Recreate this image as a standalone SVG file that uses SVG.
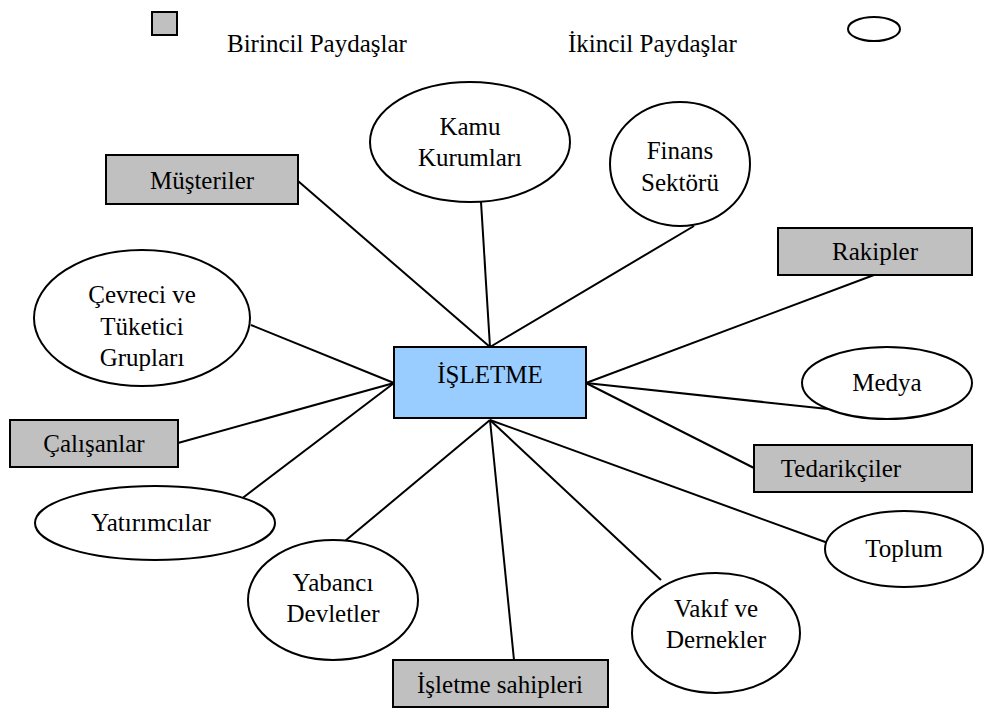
<svg xmlns="http://www.w3.org/2000/svg" width="985" height="708" viewBox="0 0 985 708">
<style>
text{font-family:'Liberation Serif','Times New Roman','DejaVu Serif',serif;font-size:25px;fill:#000;text-anchor:middle}
.p{fill:#c0c0c0;stroke:#000;stroke-width:2}
.s{fill:#fff;stroke:#000;stroke-width:2}
.c{fill:#99ccff;stroke:#000;stroke-width:2}
#edges line{stroke:#000;stroke-width:2}
</style>
<rect width="985" height="708" fill="#fff"/>
<g id="legend">
<rect class="p" x="152" y="12" width="25" height="23"/>
<text x="227" y="52" style="text-anchor:start">Birincil Paydaşlar</text>
<text x="568" y="52" style="text-anchor:start">İkincil Paydaşlar</text>
<ellipse class="s" cx="874" cy="29" rx="26" ry="12"/>
</g>
<g id="edges">
<line x1="490" y1="347" x2="298" y2="181"/>
<line x1="490" y1="347" x2="481" y2="202"/>
<line x1="490" y1="347" x2="694" y2="226"/>
<line x1="586" y1="383" x2="874" y2="275"/>
<line x1="586" y1="383" x2="828" y2="409"/>
<line x1="586" y1="383" x2="754" y2="468"/>
<line x1="394" y1="383" x2="251" y2="325"/>
<line x1="394" y1="383" x2="178" y2="443"/>
<line x1="394" y1="383" x2="240" y2="500"/>
<line x1="490" y1="420" x2="345" y2="541"/>
<line x1="490" y1="420" x2="514" y2="660"/>
<line x1="490" y1="420" x2="661" y2="580"/>
<line x1="490" y1="420" x2="828" y2="543"/>
</g>
<g id="isletme"><rect class="c" x="394" y="347" width="192" height="71"/><text x="490" y="383">İŞLETME</text></g>
<g id="kamu"><ellipse class="s" cx="470" cy="142" rx="100" ry="60"/><text x="470" y="135">Kamu</text><text x="470" y="166">Kurumları</text></g>
<g id="finans"><ellipse class="s" cx="680" cy="164" rx="70" ry="62"/><text x="680" y="159">Finans</text><text x="680" y="191">Sektörü</text></g>
<g id="musteriler"><rect class="p" x="106" y="155" width="192" height="49"/><text x="202" y="189">Müşteriler</text></g>
<g id="rakipler"><rect class="p" x="778" y="228" width="194" height="47"/><text x="875" y="260">Rakipler</text></g>
<g id="cevreci"><ellipse class="s" cx="142" cy="318" rx="108" ry="68"/><text x="142" y="303">Çevreci ve</text><text x="142" y="335">Tüketici</text><text x="142" y="366">Grupları</text></g>
<g id="medya"><ellipse class="s" cx="887" cy="383" rx="85" ry="36"/><text x="887" y="391">Medya</text></g>
<g id="calisanlar"><rect class="p" x="10" y="420" width="168" height="47"/><text x="94" y="452">Çalışanlar</text></g>
<g id="tedarikciler"><rect class="p" x="754" y="445" width="218" height="47"/><text x="841" y="477">Tedarikçiler</text></g>
<g id="yatirimcilar"><ellipse class="s" cx="155" cy="523" rx="120" ry="37"/><text x="151" y="531">Yatırımcılar</text></g>
<g id="toplum"><ellipse class="s" cx="904" cy="549" rx="79" ry="38"/><text x="904" y="557">Toplum</text></g>
<g id="yabanci"><ellipse class="s" cx="333" cy="600" rx="85" ry="60"/><text x="333" y="591">Yabancı</text><text x="333" y="622">Devletler</text></g>
<g id="vakif"><ellipse class="s" cx="716" cy="633" rx="84" ry="60"/><text x="716" y="617">Vakıf ve</text><text x="716" y="648">Dernekler</text></g>
<g id="sahipleri"><rect class="p" x="393" y="660" width="215" height="47"/><text x="500" y="693">İşletme sahipleri</text></g>
</svg>
